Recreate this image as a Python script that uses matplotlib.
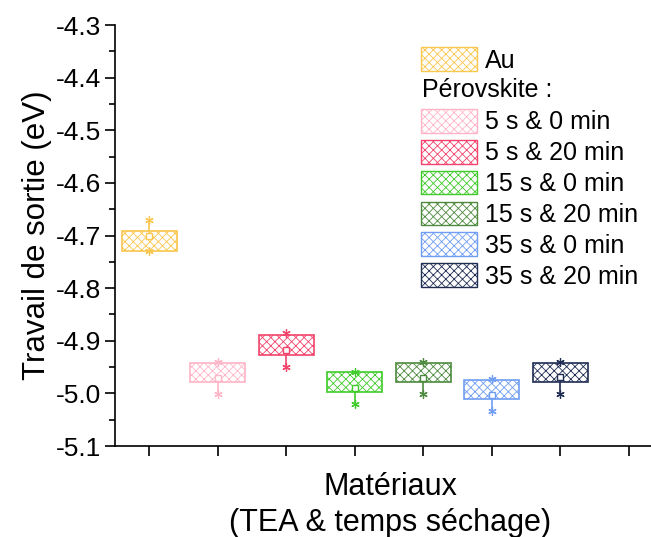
import matplotlib
matplotlib.use("Agg")
import matplotlib.pyplot as plt
from matplotlib.patches import Patch
import numpy as np

plt.rcParams["font.family"] = ["Liberation Sans", "DejaVu Sans"]
plt.rcParams["hatch.linewidth"] = 0.6

# data (work function, eV)
labels = ["Au", "5 s & 0 min", "5 s & 20 min", "15 s & 0 min",
          "15 s & 20 min", "35 s & 0 min", "35 s & 20 min"]
colors = ["#F9C64E", "#FFB5C7", "#F2436C", "#3FCB2A",
          "#4D8A3E", "#6F9DF4", "#1F2C53"]
box_low = [-4.730, -4.979, -4.927, -4.998, -4.979, -5.011, -4.979]
box_high = [-4.692, -4.943, -4.890, -4.960, -4.942, -4.975, -4.943]
means = [-4.700, -4.970, -4.918, -4.989, -4.970, -5.003, -4.968]
w_min = [-4.730, -5.001, -4.949, -5.020, -5.001, -5.033, -5.001]
w_max = [-4.671, -4.941, -4.886, -4.960, -4.940, -4.973, -4.941]

x = np.arange(1, len(labels) + 1)
low = np.array(box_low)
high = np.array(box_high)

fig = plt.figure(figsize=(6.51, 5.37), dpi=100)
ax = fig.add_axes([115 / 651, 91 / 537, 548 / 651, 421 / 537])

# boxes
ax.bar(x, high - low, bottom=low, width=0.8, fill=False, hatch="xxxx",
       edgecolor=colors, linewidth=1.2, zorder=2)

# whiskers, extremes and means
for i in range(len(x)):
    c = colors[i]
    ax.vlines(x[i], w_min[i], box_low[i], color=c, lw=1.2, zorder=3)
    ax.vlines(x[i], box_high[i], w_max[i], color=c, lw=1.2, zorder=3)
    ax.plot([x[i], x[i]], [w_min[i], w_max[i]], ls="none", marker=(6, 2, 0),
            ms=6, mew=0.9, color=c, zorder=4)
    ax.plot(x[i], means[i], ls="none", marker="s", ms=4.5, mfc="white",
            mec=c, mew=1.0, zorder=4)

ax.set_xlim(0.5, 8.5)
ax.set_ylim(-5.1, -4.3)
ax.set_xticks(np.arange(1, 9))
ax.set_xticklabels([])
ax.set_yticks(np.arange(-5.1, -4.25, 0.1))
ax.set_yticklabels([f"{v:.1f}" for v in np.arange(-5.1, -4.25, 0.1)])
ax.set_yticks(np.arange(-5.05, -4.3, 0.1), minor=True)
ax.tick_params(axis="y", which="major", length=7, width=1.2, labelsize=19,
               direction="out", pad=3)
ax.tick_params(axis="y", which="minor", length=4, width=1.2, direction="out")
ax.tick_params(axis="x", which="major", length=7, width=1.2, direction="out")
for s in ["top", "right"]:
    ax.spines[s].set_visible(False)
for s in ["left", "bottom"]:
    ax.spines[s].set_linewidth(1.2)

ax.set_ylabel("Travail de sortie (eV)", fontsize=22.5, labelpad=3)
ax.set_xlabel("Matériaux\n(TEA & temps séchage)", fontsize=22, linespacing=1.25)
ax.xaxis.set_label_coords((390 - 115) / 548, -0.062, transform=ax.transAxes)
ax.xaxis.label.set_va("top")

# legend: Au, a heading row, then the perovskite samples
handles = [Patch(facecolor="none", edgecolor=colors[0], hatch="xxxx", lw=1.0)]
handles.append(Patch(facecolor="none", edgecolor="none"))
for c in colors[1:]:
    handles.append(Patch(facecolor="none", edgecolor=c, hatch="xxxx", lw=1.0))
leg_labels = [labels[0], ""] + labels[1:]
ax.legend(handles, leg_labels, loc="upper left", bbox_to_anchor=(0.558, 0.947),
          frameon=False, fontsize=18, handlelength=2.24, handleheight=1.08,
          handletextpad=0.32, labelspacing=0.22, borderpad=0, borderaxespad=0)
ax.text(4.98, -4.4235, "Pérovskite :", fontsize=18, va="center", ha="left")

fig.savefig("out.png", dpi=100)
